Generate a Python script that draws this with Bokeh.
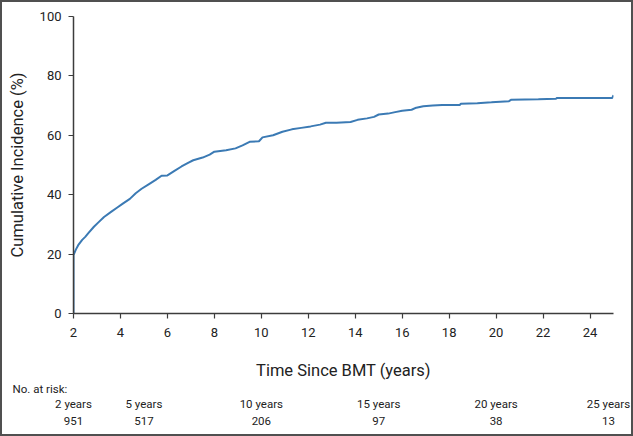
from bokeh.plotting import figure
from bokeh.models import Range1d, FixedTicker, ColumnDataSource
from bokeh.layouts import column
from bokeh.core.properties import value
from bokeh.embed import file_html
from bokeh.resources import INLINE

# ---- data ----
years = [2.00, 2.00, 2.10, 2.20, 2.37, 2.50, 2.65, 2.87, 3.05, 3.30, 3.60, 3.85,
         4.10, 4.40, 4.65, 4.90, 5.20, 5.50, 5.75, 6.00, 6.30, 6.60, 6.90, 7.10,
         7.50, 7.80, 8.00, 8.50, 8.90, 9.20, 9.50, 9.90, 10.05, 10.50, 10.90,
         11.30, 11.70, 12.10, 12.50, 12.75, 13.20, 13.80, 14.10, 14.50, 14.80,
         15.00, 15.40, 15.70, 16.00, 16.40, 16.60, 16.90, 17.30, 17.70, 18.45,
         18.50, 19.20, 19.80, 20.55, 20.65, 21.80, 22.55, 22.60, 24.95, 25.00]
incidence = [0.0, 19.7, 21.5, 23.0, 24.8, 25.8, 27.2, 29.2, 30.6, 32.5, 34.2, 35.6,
             37.0, 38.6, 40.5, 42.0, 43.5, 45.0, 46.4, 46.5, 48.0, 49.5, 50.8, 51.6,
             52.5, 53.5, 54.5, 55.0, 55.6, 56.6, 57.8, 58.0, 59.3, 60.0, 61.2,
             62.0, 62.5, 63.0, 63.6, 64.2, 64.2, 64.5, 65.2, 65.7, 66.2,
             67.0, 67.3, 67.8, 68.3, 68.6, 69.3, 69.8, 70.0, 70.2, 70.2,
             70.6, 70.8, 71.1, 71.5, 72.0, 72.1, 72.3, 72.6, 72.6, 73.5]

x_ticks = [2, 4, 6, 8, 10, 12, 14, 16, 18, 20, 22, 24]
y_ticks = [0, 20, 40, 60, 80, 100]

risk_years = [2, 5, 10, 15, 20, 25]
risk_labels = ["2 years", "5 years", "10 years", "15 years", "20 years", "25 years"]
risk_counts = ["951", "517", "206", "97", "38", "13"]
risk_title = "No. at risk:"

FONT = "Roboto"
AXIS_COLOR = "#3c3c3c"
TEXT_COLOR = "#222222"
LINE_COLOR = "#3b7ab4"

W = 633
BL, BR = 73, 20
MAIN_H = 382
TABLE_H = 436 - MAIN_H

p = figure(width=W, height=MAIN_H, output_backend="svg", toolbar_location=None,
           x_range=Range1d(2, 25), y_range=Range1d(0, 100),
           min_border_left=BL, min_border_right=BR, min_border_top=16,
           min_border_bottom=MAIN_H - 318)
p.outline_line_color = None
p.border_fill_color = None
p.xgrid.grid_line_color = None
p.ygrid.grid_line_color = None

p.line(years, incidence, line_color=LINE_COLOR, line_width=2)

for ax in (p.xaxis[0], p.yaxis[0]):
    ax.axis_line_color = AXIS_COLOR
    ax.axis_line_width = 1.5
    ax.major_tick_line_color = AXIS_COLOR
    ax.major_tick_line_width = 1.2
    ax.major_tick_in = 0
    ax.major_tick_out = 5
    ax.minor_tick_line_color = None
    ax.major_label_text_font = FONT
    ax.major_label_text_font_size = "13px"
    ax.major_label_text_color = TEXT_COLOR
    ax.axis_label_text_font = FONT
    ax.axis_label_text_font_style = "normal"
    ax.axis_label_text_color = TEXT_COLOR
    ax.axis_label_text_font_size = "16.5px"

p.xaxis.ticker = FixedTicker(ticks=x_ticks)
p.yaxis.ticker = FixedTicker(ticks=y_ticks)
p.xaxis.axis_label = "Time Since BMT (years)"
p.yaxis.axis_label = "Cumulative Incidence (%)"
p.xaxis.major_label_standoff = 9
p.xaxis.axis_label_standoff = 21
p.yaxis.major_label_standoff = 7
p.yaxis.axis_label_standoff = 10

# ---- number-at-risk table: same horizontal scale as the main plot ----
k = (W - BL - BR) / (25 - 2)          # pixels per year
x0 = 2 - BL / k
t = figure(width=W, height=TABLE_H, output_backend="svg", toolbar_location=None,
           x_range=Range1d(x0, 25 + BR / k), y_range=Range1d(TABLE_H, 0),
           x_axis_location=None, y_axis_location=None,
           min_border_left=0, min_border_right=0, min_border_top=0,
           min_border_bottom=0)
t.frame_align = False
t.grid.visible = False
t.outline_line_color = None
t.border_fill_color = None
t.background_fill_color = None

t.text(x=[x0 + 12 / k], y=[6], text=[risk_title], text_font=value(FONT),
       text_font_size="11.5px", text_color=TEXT_COLOR, text_align="left",
       text_baseline="middle")
offsets = [-5 if yr == max(risk_years) else 0 for yr in risk_years]
src = ColumnDataSource(dict(x=risk_years, lab=risk_labels, cnt=risk_counts,
                            row1=[21] * len(risk_years), row2=[38] * len(risk_years),
                            off=offsets))
t.text(x="x", y="row1", text="lab", x_offset="off", source=src, text_font=value(FONT),
       text_font_size="11.5px", text_color=TEXT_COLOR, text_align="center",
       text_baseline="middle")
t.text(x="x", y="row2", text="cnt", x_offset="off", source=src, text_font=value(FONT),
       text_font_size="11.5px", text_color=TEXT_COLOR, text_align="center",
       text_baseline="middle")

layout = column(p, t, spacing=0, width=W, height=436,
                styles={"box-shadow": "inset 0 0 0 2px #505050",
                        "background-color": "white"})
open("out.html", "w").write(file_html(layout, INLINE))
